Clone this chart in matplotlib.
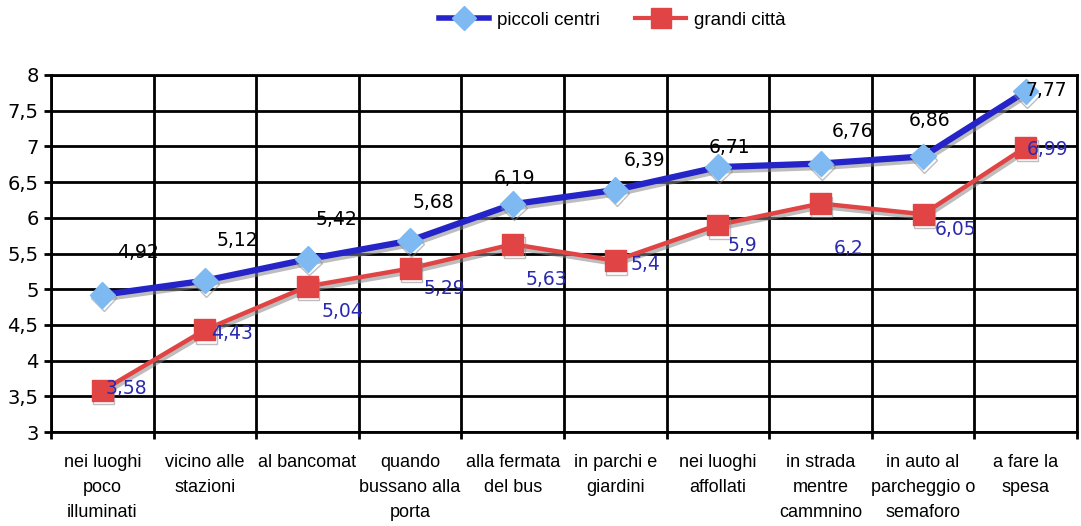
import matplotlib
matplotlib.use("Agg")
import matplotlib.pyplot as plt
import matplotlib.patheffects as pe
from matplotlib.lines import Line2D
import numpy as np

categories = ["nei luoghi\npoco\nilluminati", "vicino alle\nstazioni", "al bancomat",
              "quando\nbussano alla\nporta", "alla fermata\ndel bus", "in parchi e\ngiardini",
              "nei luoghi\naffollati", "in strada\nmentre\ncammnino",
              "in auto al\nparcheggio o\nsemaforo", "a fare la\nspesa"]
piccoli = [4.92, 5.12, 5.42, 5.68, 6.19, 6.39, 6.71, 6.76, 6.86, 7.77]
grandi = [3.58, 4.43, 5.04, 5.29, 5.63, 5.40, 5.90, 6.20, 6.05, 6.99]
piccoli_labels = ["4,92", "5,12", "5,42", "5,68", "6,19", "6,39", "6,71", "6,76", "6,86", "7,77"]
grandi_labels = ["3,58", "4,43", "5,04", "5,29", "5,63", "5,4", "5,9", "6,2", "6,05", "6,99"]
yticks = [3, 3.5, 4, 4.5, 5, 5.5, 6, 6.5, 7, 7.5, 8]
ytick_labels = ["3", "3,5", "4", "4,5", "5", "5,5", "6", "6,5", "7", "7,5", "8"]

# label offsets in pixels (dx, dy) relative to the point
p_off = [(36, 42), (32, 40), (29, 40), (23, 38), (2, 26), (29, 29), (12, 20), (32, 32), (6, 36), (21, 1)]
g_off = [(24, 2), (27, -4), (35, -25), (34, -20), (34, -35), (30, -4), (25, -21), (28, -45), (32, -15), (22, -2)]

blue_line = "#2424C8"
blue_marker = "#7EB9F2"
red = "#E04444"

fig = plt.figure(figsize=(10.81, 5.26), dpi=100)
ax = fig.add_axes([51/1081, 1-432/526, (1077-51)/1081, (432-75)/526])

x = np.arange(len(categories))
shadow = [pe.SimpleLineShadow(offset=(1, -2.5), shadow_color="#888888", alpha=0.55), pe.Normal()]

ax.plot(x, piccoli, color=blue_line, lw=4.5, marker="D", markersize=13,
        markerfacecolor=blue_marker, markeredgecolor=blue_marker, zorder=5,
        path_effects=shadow)
ax.plot(x, grandi, color=red, lw=3.2, marker="s", markersize=15,
        markerfacecolor=red, markeredgecolor=red, zorder=4,
        path_effects=shadow)

for i in range(len(x)):
    ax.annotate(piccoli_labels[i], (x[i], piccoli[i]), xytext=(p_off[i][0]*0.72, p_off[i][1]*0.72),
                textcoords="offset points", ha="center", va="center", fontsize=13.5, color="black",
                family="DejaVu Sans", zorder=6)
    ax.annotate(grandi_labels[i], (x[i], grandi[i]), xytext=(g_off[i][0]*0.72, g_off[i][1]*0.72),
                textcoords="offset points", ha="center", va="center", fontsize=13.5, color="#2A2AB0",
                family="DejaVu Sans", zorder=6)

ax.set_xlim(-0.5, len(x) - 0.5)
ax.set_ylim(3, 8)
ax.set_yticks(yticks)
ax.set_yticklabels(ytick_labels, fontsize=14, family="DejaVu Sans")
ax.set_xticks(x)
ax.set_xticklabels(categories, fontsize=13, family="Liberation Sans", linespacing=1.65)
ax.set_xticks(np.arange(-0.5, len(x)), minor=True)
ax.tick_params(axis="x", which="major", length=0, pad=15.5)
ax.tick_params(axis="x", which="minor", length=5, width=2, direction="out")
ax.tick_params(axis="y", length=5, width=2, direction="out", pad=4)
ax.grid(True, axis="y", color="black", lw=2)
ax.grid(True, axis="x", which="minor", color="black", lw=2)
for s in ax.spines.values():
    s.set_linewidth(2)
ax.set_axisbelow(True)

handles = [
    Line2D([], [], color=blue_line, lw=4, marker="D", markersize=12,
           markerfacecolor=blue_marker, markeredgecolor=blue_marker),
    Line2D([], [], color=red, lw=3, marker="s", markersize=14,
           markerfacecolor=red, markeredgecolor=red),
]
fig.legend(handles, ["piccoli centri", "grandi città"], loc="center",
           bbox_to_anchor=(612/1081, 1-20/526), ncol=2, frameon=False,
           prop={"family": "Liberation Sans", "size": 13.5},
           handlelength=2.7, columnspacing=1.9, handletextpad=0.4,
           borderaxespad=0, borderpad=0)

fig.savefig("out.png", dpi=100)
